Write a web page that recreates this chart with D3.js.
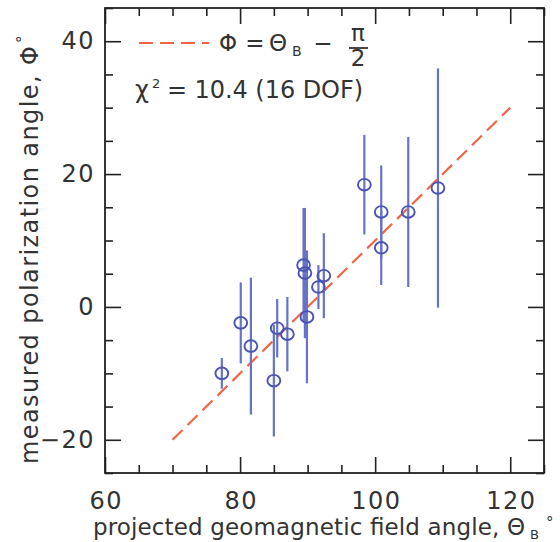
<!DOCTYPE html>
<html>
<head>
<meta charset="utf-8">
<script src="https://cdn.jsdelivr.net/npm/d3@7"></script>
<style>
  html, body { margin: 0; padding: 0; background: #fff; }
  svg { display: block; }
  text { font-family: "DejaVu Sans", "Liberation Sans", sans-serif; fill: #333; }
</style>
</head>
<body>
<svg id="chart" width="560" height="542"></svg>
<script>
// Measured polarization angle vs projected geomagnetic field angle
const theta = [77.3, 80.1, 81.6, 85.0, 85.5, 87.0, 89.4, 89.6, 89.9, 91.6, 92.4, 98.4, 100.9, 100.9, 104.9, 109.3];
const phi   = [-10.0, -2.4, -5.9, -11.1, -3.2, -4.1, 6.3, 5.1, -1.5, 3.0, 4.7, 18.4, 14.3, 8.9, 14.3, 17.9];
const phiErr = [2.3, 6.1, 10.3, 8.4, 4.4, 5.6, 8.6, 9.8, 10.0, 3.3, 6.4, 7.5, 7.0, 5.6, 11.3, 18.0];

// Model line Φ = Θ_B − π/2 (in degrees), drawn over this range of Θ_B
const modelTheta = [70, 120];

const xTicks = [60, 80, 100, 120];
const yTicks = [-20, 0, 20, 40];

const svg = d3.select("#chart");
const plotL = 105, plotT = 8, plotR = 544, plotB = 473;

const x = d3.scaleLinear().domain([60, 125]).range([plotL, plotR]);
const y = d3.scaleLinear().domain([-25, 45]).range([plotB, plotT]);

const frameColor = "#222";
const textColor = "#333";
const tickFont = 24;
const majorLen = 16, minorLen = 8;
const minorX = d3.range(60, 126, 5).filter(v => !xTicks.includes(v));
const minorY = d3.range(-25, 46, 5).filter(v => !yTicks.includes(v));

function styleAxis(g) {
  g.select(".domain").remove();
  g.selectAll(".tick line").attr("stroke", frameColor).attr("stroke-width", 1.6);
}
function styleLabels(g) {
  g.selectAll("text").attr("font-size", tickFont).attr("fill", textColor)
    .attr("font-family", '"DejaVu Sans", sans-serif').attr("letter-spacing", 1.5);
}

// inward ticks on all four sides
svg.append("g").attr("transform", `translate(0,${plotB})`)
  .call(d3.axisBottom(x).tickValues(xTicks).tickSize(-majorLen).tickFormat(d3.format("d")).tickPadding(19))
  .call(styleAxis).call(styleLabels)
  .call(g => g.selectAll("text").attr("dx", 0.75));
svg.append("g").attr("transform", `translate(0,${plotB})`)
  .call(d3.axisBottom(x).tickValues(minorX).tickSize(-minorLen).tickFormat(""))
  .call(styleAxis);
svg.append("g").attr("transform", `translate(0,${plotT})`)
  .call(d3.axisTop(x).tickValues(xTicks).tickSize(-majorLen).tickFormat(""))
  .call(styleAxis);
svg.append("g").attr("transform", `translate(0,${plotT})`)
  .call(d3.axisTop(x).tickValues(minorX).tickSize(-minorLen).tickFormat(""))
  .call(styleAxis);

svg.append("g").attr("transform", `translate(${plotL},0)`)
  .call(d3.axisLeft(y).tickValues(yTicks).tickSize(-majorLen)
    .tickFormat(d => d < 0 ? "\u2212" + Math.abs(d) : d).tickPadding(10))
  .call(styleAxis).call(styleLabels);
svg.append("g").attr("transform", `translate(${plotL},0)`)
  .call(d3.axisLeft(y).tickValues(minorY).tickSize(-minorLen).tickFormat(""))
  .call(styleAxis);
svg.append("g").attr("transform", `translate(${plotR},0)`)
  .call(d3.axisRight(y).tickValues(yTicks).tickSize(-majorLen).tickFormat(""))
  .call(styleAxis);
svg.append("g").attr("transform", `translate(${plotR},0)`)
  .call(d3.axisRight(y).tickValues(minorY).tickSize(-minorLen).tickFormat(""))
  .call(styleAxis);

// frame
svg.append("rect")
  .attr("x", plotL).attr("y", plotT)
  .attr("width", plotR - plotL).attr("height", plotB - plotT)
  .attr("fill", "none").attr("stroke", frameColor).attr("stroke-width", 1.8);

// model line
const lineColor = "#f26446";
svg.append("path")
  .datum(modelTheta.map(t => [t, t - 90]))
  .attr("d", d3.line().x(d => x(d[0])).y(d => y(d[1])))
  .attr("fill", "none").attr("stroke", lineColor)
  .attr("stroke-width", 2.2).attr("stroke-dasharray", "14,7");

// data with error bars
const pts = theta.map((t, i) => ({ t, p: phi[i], e: phiErr[i] }));
const barColor = "#6773c8", ptColor = "#4a54b4";

svg.append("g").selectAll("line").data(pts).join("line")
  .attr("x1", d => x(d.t)).attr("x2", d => x(d.t))
  .attr("y1", d => y(d.p + d.e)).attr("y2", d => y(d.p - d.e))
  .attr("stroke", barColor).attr("stroke-width", 2.2);

svg.append("g").selectAll("ellipse").data(pts).join("ellipse")
  .attr("cx", d => x(d.t)).attr("cy", d => y(d.p))
  .attr("rx", 6.4).attr("ry", 5.8)
  .attr("fill", "none").attr("stroke", ptColor).attr("stroke-width", 1.9);

// legend
const fs = 23;
const lg = svg.append("g");
lg.append("line")
  .attr("x1", 139).attr("x2", 209).attr("y1", 43).attr("y2", 43)
  .attr("stroke", lineColor).attr("stroke-width", 2.2).attr("stroke-dasharray", "14,7");
lg.append("text").attr("x", 228).attr("y", 51).attr("font-size", fs).attr("text-anchor", "middle").text("\u03A6");
lg.append("text").attr("x", 255).attr("y", 51).attr("font-size", fs).attr("text-anchor", "middle").text("=");
lg.append("text").attr("x", 278).attr("y", 51).attr("font-size", fs).attr("text-anchor", "middle").text("\u0398");
lg.append("text").attr("x", 292).attr("y", 56).attr("font-size", 14).text("B");
lg.append("text").attr("x", 323).attr("y", 51).attr("font-size", fs).attr("text-anchor", "middle").text("\u2212");
lg.append("text").attr("x", 358).attr("y", 41).attr("font-size", fs).attr("text-anchor", "middle").text("\u03C0");
lg.append("line").attr("x1", 349).attr("x2", 368).attr("y1", 48).attr("y2", 48)
  .attr("stroke", textColor).attr("stroke-width", 1.8);
lg.append("text").attr("x", 358).attr("y", 66).attr("font-size", fs).attr("text-anchor", "middle").text("2");

lg.append("text").attr("x", 135).attr("y", 98).attr("font-size", 24).text("\u03C7");
lg.append("text").attr("x", 152).attr("y", 88).attr("font-size", 13).text("2");
lg.append("text").attr("x", 167).attr("y", 98).attr("font-size", 24)
  .attr("textLength", 196).attr("lengthAdjust", "spacing").text("=  10.4 (16 DOF)");

// axis titles
svg.append("text").attr("x", 93).attr("y", 535).attr("font-size", 23)
  .attr("textLength", 432).attr("lengthAdjust", "spacing")
  .text("projected geomagnetic field angle, \u0398");
svg.append("text").attr("x", 530).attr("y", 539).attr("font-size", 13).text("B");
svg.append("text").attr("x", 546).attr("y", 528).attr("font-size", 15).text("\u00B0");

const yt = svg.append("g").attr("transform", "translate(38,464) rotate(-90)");
yt.append("text").attr("x", 0).attr("y", 0).attr("font-size", 24)
  .attr("textLength", 418).attr("lengthAdjust", "spacing")
  .text("measured polarization angle, \u03A6");
yt.append("text").attr("x", 421).attr("y", -10).attr("font-size", 15).text("\u00B0");
</script>
</body>
</html>
